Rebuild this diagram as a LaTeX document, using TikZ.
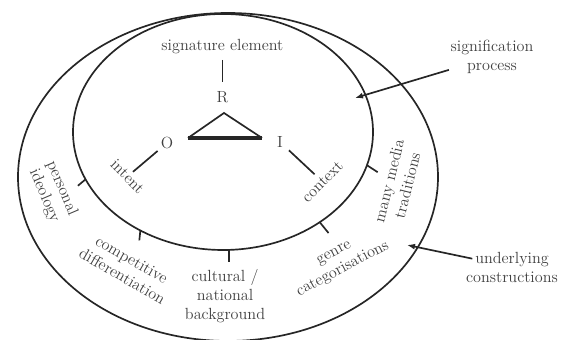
\documentclass[tikz,border=0pt]{standalone}
\usepackage{tikz}
\usetikzlibrary{positioning,arrows.meta,shapes.geometric}

\begin{document}
\begin{tikzpicture}[
  ring/.style={draw=black!85, line width=1.2pt, ellipse, inner sep=0pt, outer sep=0pt},
  txt/.style={text=black!75, align=center, font=\fontsize{11.5}{13.5}\selectfont, inner sep=1pt},
  notch/.style={draw=black!85, line width=1.2pt},
  link/.style={draw=black!85, line width=1.2pt},
  flow/.style={-{Latex[length=2mm]}, line width=1.2pt, draw=black!85}]
\useasboundingbox (0,0) rectangle (14.35,8.5);
% the two fields
\node[ring, minimum width=10.5cm, minimum height=8.2cm] (cons) at (5.7,4.075) {};
\node[ring, minimum width=7.5cm, minimum height=5.9cm] (sig) at (5.575,5.2) {};
% sign triangle
\coordinate (apex) at (5.6,5.675);
\coordinate (lft) at (4.7,5.05);
\coordinate (rgt) at (6.55,5.05);
\draw[link, line join=miter] (lft) -- (apex) -- (rgt);
\draw[line width=2.2pt, black!85] (lft) -- (rgt);
\node[txt] (sigel) at (5.56,7.325) {signature element};
\node[txt] (R) at (5.56,6.075) {R};
\node[txt] (O) at (4.175,4.925) {O};
\node[txt] (I) at (7.0,4.95) {I};
\node[txt, rotate=-45] (intent) at (3.19,4.09) {intent};
\node[txt, rotate=45] (context) at (8.06,3.96) {context};
\draw[link, shorten <=0.1cm, shorten >=0.2cm] (sigel) -- (R);
\draw[link, shorten <=0.05cm] (O) -- (intent);
\draw[link, shorten <=0.15cm, shorten >=0.1cm] (I) -- (context);
% ticks on the inner field
\draw[notch] (sig.199) -- ++(220:0.25);
\draw[notch] (sig.230) -- ++(264:0.25);
\draw[notch] (sig.273) -- ++(270:0.3);
\draw[notch] (sig.317) -- ++(309:0.35);
\draw[notch] (sig.347) -- ++(327:0.32);
% ring labels
\node[txt, rotate=-67] (ideo) at (1.325,3.7) {personal\\ideology};
\node[txt, rotate=-30] (comp) at (3.175,1.8) {competitive\\differentiation};
\node[txt] (cult) at (5.625,1.1) {cultural /\\national\\background};
\node[txt, rotate=28] (genre) at (8.475,1.95) {genre\\categorisations};
\node[txt, rotate=76] (media) at (9.95,3.925) {many media\\traditions};
% callouts
\node[txt] (sigproc) at (12.3,7.075) {signification\\process};
\node[txt] (undcons) at (12.8,1.825) {underlying\\constructions};
\coordinate (sigpt) at (8.875,6.05);
\coordinate (conspt) at (10.175,2.375);
\draw[flow] (sigproc) -- (sigpt);
\draw[flow, shorten <=-0.2cm] (undcons) -- (conspt);
\end{tikzpicture}
\end{document}
